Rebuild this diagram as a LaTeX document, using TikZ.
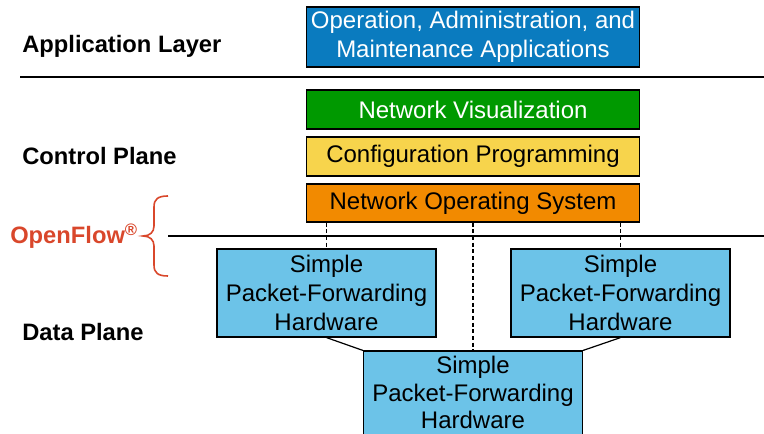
\documentclass[tikz,border=0pt]{standalone}
\usepackage{fontspec}
\setmainfont{Liberation Sans}
\usepackage{tikz}

\definecolor{oamblue}{RGB}{10,123,191}
\definecolor{visgreen}{RGB}{0,153,0}
\definecolor{cfgyellow}{RGB}{247,212,76}
\definecolor{nosorange}{RGB}{242,138,0}
\definecolor{hwblue}{RGB}{108,195,232}
\definecolor{ofred}{RGB}{217,71,43}

\begin{document}
\begin{tikzpicture}[x=0.75pt,y=0.75pt,yscale=-1,xscale=1,
  box/.style={draw=black,line width=0.9pt,inner sep=0pt,align=center,
    font=\fontsize{18}{21.5}\selectfont},
  layerlabel/.style={anchor=west,inner sep=0pt,font=\fontsize{17.8}{20}\selectfont\bfseries}]
\useasboundingbox (0,0) rectangle (764,434);

%Layer separators
\draw [line width=1.6pt]  (20,77) -- (764,77) ;
\draw [line width=1.6pt]  (168,236) -- (764,236) ;

%Shape: Rectangle [oam]
\node [box,fill=oamblue,text=white,minimum width=249.75pt,minimum height=45pt] (oam) at (473,37) {Operation, Administration, and\\Maintenance Applications};
%Shape: Rectangle [netvis]
\node [box,fill=visgreen,text=white,minimum width=249.75pt,minimum height=29.25pt] (netvis) at (473,109.5) {Network Visualization};
%Shape: Rectangle [config]
\node [box,fill=cfgyellow,minimum width=249.75pt,minimum height=29.25pt] (config) at (473,156.5) {Configuration Programming};
%Shape: Rectangle [nos]
\node [box,fill=nosorange,minimum width=249.75pt,minimum height=28.5pt] (nos) at (473,203) {Network Operating System};

%Shape: Rectangle [switches]
\node [box,fill=hwblue,minimum width=164.25pt,minimum height=66pt] (sw1) at (326.5,293) {Simple\\Packet-Forwarding\\Hardware};
\node [box,fill=hwblue,minimum width=164.25pt,minimum height=66pt] (sw2) at (620.5,293) {Simple\\Packet-Forwarding\\Hardware};
\node [box,fill=hwblue,minimum width=164.25pt,minimum height=62.5pt,font=\fontsize{18}{20.6}\selectfont] (sw3) at (473,392.7) {Simple\\Packet-Forwarding\\Hardware};

%Straight Lines [control links]
\draw [dashed,dash pattern=on 3pt off 2pt,line width=0.8pt]  (sw1.north |- nos.south) -- (sw1.north) ;
\draw [dashed,dash pattern=on 3pt off 2pt,line width=0.8pt]  (nos.south) -- (sw3.north) ;
\draw [dashed,dash pattern=on 3pt off 2pt,line width=0.8pt]  (sw2.north |- nos.south) -- (sw2.north) ;
%Straight Lines [data links]
\draw [line width=0.9pt]  (sw1.south) -- (sw3.north west) ;
\draw [line width=0.9pt]  (sw2.south) -- (sw3.north east) ;

%Brace
\draw [ofred,line width=1.2pt]  (168,196) .. controls (158,196) and (154,199) .. (154,207) -- (154,226) .. controls (154,232) and (150,236) .. (143,236) .. controls (150,236) and (154,240) .. (154,246) -- (154,265) .. controls (154,273) and (158,276) .. (168,276) ;

% Text Node
\node [layerlabel] (applayer) at (22,46) {Application Layer};
% Text Node
\node [layerlabel] (ctrlplane) at (22,156) {Control Plane};
% Text Node
\node [layerlabel] (dataplane) at (22,332) {Data Plane};
% Text Node
\node [layerlabel,text=ofred] (openflow) at (10,236) {OpenFlow\textsuperscript{\textregistered}};

\end{tikzpicture}
\end{document}
